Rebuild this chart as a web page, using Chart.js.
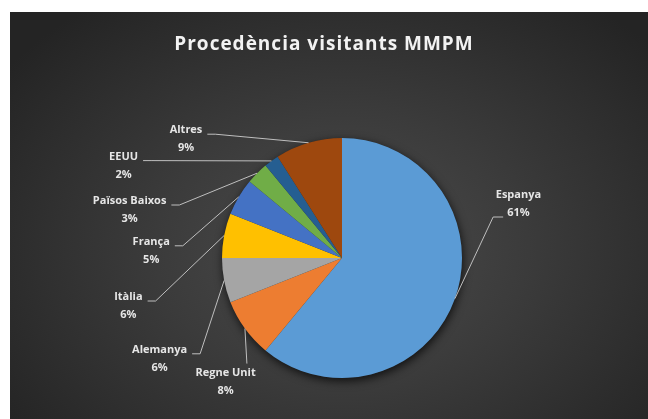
<!DOCTYPE html>
<html lang="ca">
<head>
    <meta charset="UTF-8">
    <title>Procedència visitants MMPM</title>
    <script src="https://cdn.jsdelivr.net/npm/chart.js"></script>
    <style>
        html, body { margin: 0; padding: 0; background: #ffffff; }
        #wrap {
            position: absolute;
            left: 10px; top: 12px;
            width: 638px; height: 407px;
            background: radial-gradient(ellipse 65% 75% at 52% 58%, #4c4c4c 0%, #3b3b3b 45%, #242424 100%);
        }
    </style>
</head>
<body>
    <div id="wrap"><canvas id="pieChart"></canvas></div>

    <script>
        const chartTitle = 'Procedència visitants MMPM';
        const categories = ['Espanya', 'Regne Unit', 'Alemanya', 'Itàlia', 'França', 'Països Baixos', 'EEUU', 'Altres'];
        const percentages = [61, 8, 6, 6, 5, 3, 2, 9];

        // Excel-style palette
        const sliceColors = ['#5b9bd5', '#ed7d31', '#a5a5a5', '#ffc000', '#4472c4', '#70ad47', '#255e91', '#9e480e'];

        // label block centre, in pie-radius units from the pie centre, and which side the leader leaves from
        const labelOffsets = [[1.47, -0.45], [-0.97, 1.03], [-1.52, 0.84], [-1.78, 0.40], [-1.59, -0.06], [-1.77, -0.40], [-1.82, -0.77], [-1.30, -0.99]];
        const labelSides = ['right', 'below', 'left', 'left', 'left', 'left', 'left', 'left'];

        const total = percentages.reduce((a, b) => a + b, 0);

        const decorations = {
            id: 'decorations',
            beforeDatasetsDraw(chart) {
                // soft shadow under the whole pie
                const arc = chart.getDatasetMeta(0).data[0];
                const ctx = chart.ctx;
                ctx.save();
                ctx.shadowColor = 'rgba(0,0,0,0.75)';
                ctx.shadowBlur = 10;
                ctx.shadowOffsetX = 1;
                ctx.shadowOffsetY = 3;
                ctx.fillStyle = '#2a2a2a';
                ctx.beginPath();
                ctx.arc(arc.x, arc.y, arc.outerRadius, 0, Math.PI * 2);
                ctx.fill();
                ctx.restore();
            },
            afterDatasetsDraw(chart) {
                const ctx = chart.ctx;
                ctx.save();

                // title
                ctx.fillStyle = '#f2f2f2';
                ctx.font = 'bold 19px "Open Sans"';
                ctx.letterSpacing = '1px';
                ctx.textAlign = 'center';
                ctx.textBaseline = 'middle';
                ctx.fillText(chartTitle, chart.width / 2 - 5, 33);
                ctx.letterSpacing = '0px';

                ctx.font = 'bold 11px "Open Sans"';
                ctx.strokeStyle = '#bfbfbf';
                ctx.lineWidth = 1;

                chart.getDatasetMeta(0).data.forEach((arc, i) => {
                    const r = arc.outerRadius;
                    const mid = (arc.startAngle + arc.endAngle) / 2;
                    const ex = arc.x + Math.cos(mid) * r;
                    const ey = arc.y + Math.sin(mid) * r;
                    const cx = arc.x + labelOffsets[i][0] * r;
                    const cy = arc.y + labelOffsets[i][1] * r;
                    const line1 = categories[i];
                    const line2 = Math.round(percentages[i] / total * 100) + '%';
                    const y1 = cy - 9, y2 = cy + 9;

                    ctx.fillStyle = '#e6e6e6';
                    ctx.fillText(line1, cx, y1);
                    ctx.fillText(line2, cx, y2);

                    ctx.beginPath();
                    if (labelSides[i] === 'left') {
                        const sx = cx + ctx.measureText(line1).width / 2 + 5;
                        const sy = y1 + 4;
                        ctx.moveTo(sx, sy);
                        ctx.lineTo(sx + 8, sy);
                    } else if (labelSides[i] === 'right') {
                        const sx = cx - ctx.measureText(line2).width / 2 - 4;
                        const sy = y2 + 4;
                        ctx.moveTo(sx, sy);
                        ctx.lineTo(sx - 10, sy);
                    } else {
                        ctx.moveTo(ex + 2, y1 - 9);
                    }
                    ctx.lineTo(ex, ey);
                    ctx.stroke();
                });
                ctx.restore();
            }
        };

        new Chart(document.getElementById('pieChart'), {
            type: 'pie',
            data: {
                labels: categories,
                datasets: [{
                    data: percentages,
                    backgroundColor: sliceColors,
                    borderWidth: 0,
                    hoverOffset: 0
                }]
            },
            options: {
                responsive: true,
                maintainAspectRatio: false,
                animation: false,
                events: [],
                layout: { padding: { left: 212, right: 186, top: 126, bottom: 41 } },
                plugins: {
                    legend: { display: false },
                    title: { display: false },
                    tooltip: { enabled: false }
                }
            },
            plugins: [decorations]
        });
    </script>
</body>
</html>
